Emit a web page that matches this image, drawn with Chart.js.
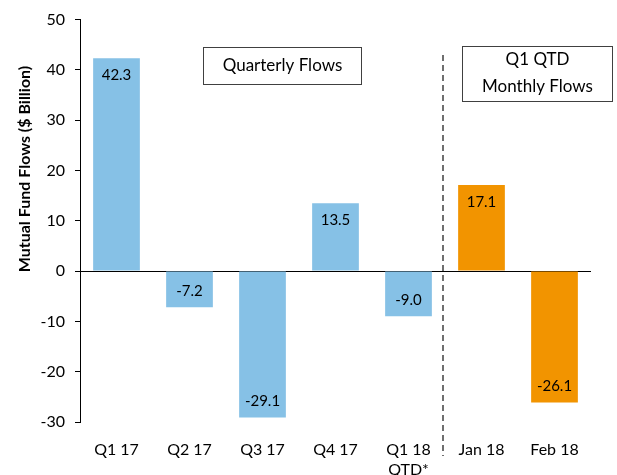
<!DOCTYPE html>
<html>
<head>
<meta charset="utf-8">
<script src="https://cdn.jsdelivr.net/npm/chart.js@4"></script>
<style>
html,body{margin:0;padding:0;background:#fff;}
#wrap{width:617px;height:475px;}
</style>
</head>
<body>
<div id="wrap"><canvas id="c" width="617" height="475"></canvas></div>
<script>
const categories = [["Q1 17"], ["Q2 17"], ["Q3 17"], ["Q4 17"], ["Q1 18", "QTD*"], ["Jan 18"], ["Feb 18"]];
const flows = [42.3, -7.2, -29.1, 13.5, -9.0, 17.1, -26.1];
const seriesType = ["quarterly", "quarterly", "quarterly", "quarterly", "quarterly", "monthly", "monthly"];
const yTicks = [50, 40, 30, 20, 10, 0, -10, -20, -30];
const axisTitle = "Mutual Fund Flows ($ Billion)";
const boxQuarterly = ["Quarterly Flows"];
const boxMonthly = ["Q1 QTD", "Monthly Flows"];

const BLUE = "#86c1e6";
const ORANGE = "#f29400";
const FONT = "Lato, 'Open Sans', sans-serif";

const overlay = {
  id: "overlay",
  afterDatasetsDraw(chart) {
    const ctx = chart.ctx;
    const x = chart.scales.x, y = chart.scales.y;
    ctx.save();
    // data labels
    ctx.fillStyle = "#000";
    ctx.font = "15px " + FONT;
    ctx.textAlign = "center";
    ctx.textBaseline = "middle";
    const meta = chart.getDatasetMeta(0);
    meta.data.forEach((bar, i) => {
      const v = flows[i];
      const yy = v >= 0 ? bar.y + 17 : bar.y - 16;
      ctx.fillText(v.toFixed(1), bar.x, yy);
    });
    // dashed separator
    const sx = (x.getPixelForValue(4) + x.getPixelForValue(5)) / 2 - 2;
    ctx.strokeStyle = "#404040";
    ctx.lineWidth = 1.5;
    ctx.setLineDash([6, 4]);
    ctx.beginPath();
    ctx.moveTo(sx, 55);
    ctx.lineTo(sx, 456);
    ctx.stroke();
    ctx.setLineDash([]);
    // boxes
    ctx.lineWidth = 1;
    ctx.strokeStyle = "#404040";
    ctx.font = "17px " + FONT;
    ctx.fillStyle = "#fff";
    ctx.fillRect(203.5, 47.5, 158, 37);
    ctx.strokeRect(203.5, 47.5, 158, 37);
    ctx.fillRect(462.5, 46.5, 150, 55);
    ctx.strokeRect(462.5, 46.5, 150, 55);
    ctx.fillStyle = "#000";
    ctx.fillText(boxQuarterly[0], 282.5, 66);
    ctx.fillText(boxMonthly[0], 537.5, 60);
    ctx.fillText(boxMonthly[1], 537.5, 87);
    // y axis title
    ctx.font = "bold 16px " + FONT;
    ctx.translate(25, 169);
    ctx.rotate(-Math.PI / 2);
    ctx.fillText(axisTitle, 0, 0);
    ctx.restore();
  }
};

new Chart(document.getElementById("c"), {
  type: "bar",
  data: {
    labels: categories,
    datasets: [{
      data: flows,
      backgroundColor: seriesType.map(t => t === "monthly" ? ORANGE : BLUE),
      borderWidth: 0,
      categoryPercentage: 1,
      barPercentage: 0.64
    }]
  },
  options: {
    responsive: false,
    animation: false,
    devicePixelRatio: 1,
    layout: { padding: { top: 18, right: 26, left: 0, bottom: 0 } },
    plugins: { legend: { display: false }, tooltip: { enabled: false } },
    scales: {
      x: {
        grid: { display: false },
        border: { display: false },
        ticks: { color: "#000", font: { family: FONT, size: 16, lineHeight: 1.3 }, padding: 9, maxRotation: 0, autoSkip: false },
        afterFit(s) { s.height = 53; }
      },
      y: {
        min: -30, max: 50,
        afterBuildTicks(s) { s.ticks = yTicks.map(v => ({ value: v })); },
        grid: {
          drawOnChartArea: true,
          color: c => (c.tick && c.tick.value === 0) ? "#000" : "rgba(0,0,0,0)",
          tickColor: "#000",
          tickLength: 5,
          lineWidth: 1
        },
        border: { display: true, color: "#000", width: 1 },
        ticks: { color: "#000", font: { family: FONT, size: 16 }, padding: 10 },
        afterFit(s) { s.width = 80; }
      }
    }
  },
  plugins: [overlay]
});
</script>
</body>
</html>
